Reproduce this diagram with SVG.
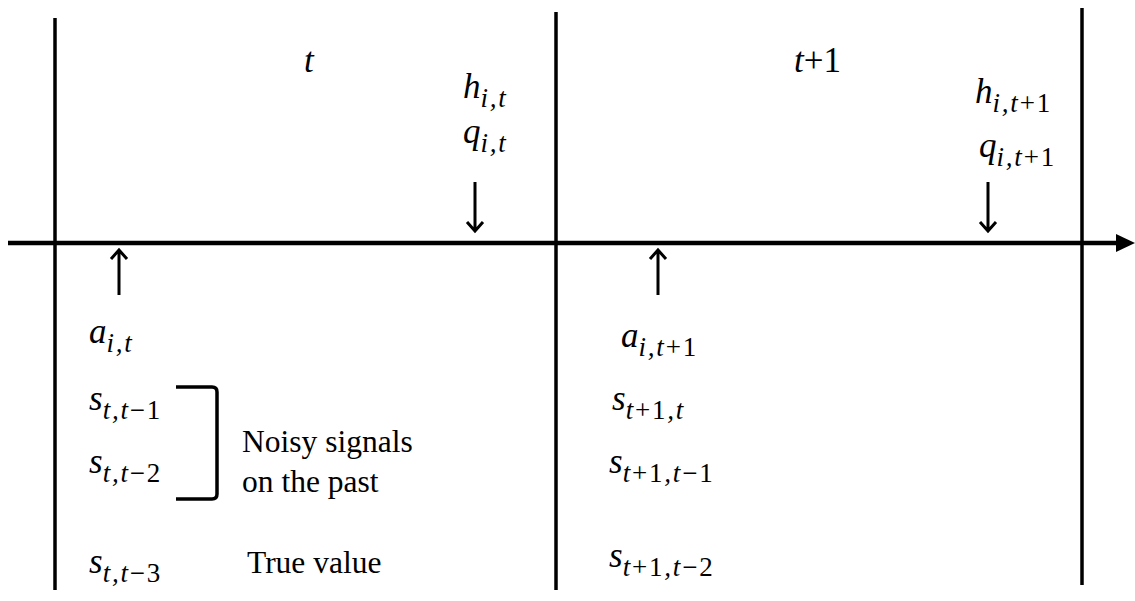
<svg xmlns="http://www.w3.org/2000/svg" width="1135" height="601" viewBox="0 0 1135 601">
<style>
.m{font-family:"Liberation Serif","DejaVu Serif",serif;font-style:italic;font-size:35px;fill:#000}
.s{font-size:27px;letter-spacing:1.8px}
.u{font-style:normal}
.r{font-family:"Liberation Serif","DejaVu Serif",serif;font-size:31.5px;fill:#000}
.ln{stroke:#000;fill:none;stroke-width:3.5}
.ar{stroke:#000;fill:none;stroke-width:3;stroke-linecap:butt}
</style>
<g id="connectors">
<line class="ln" x1="55" y1="18" x2="55" y2="590"/>
<line class="ln" x1="556" y1="12" x2="556" y2="590"/>
<line class="ln" x1="1082" y1="8" x2="1082" y2="585"/>
<line x1="8" y1="243" x2="1118" y2="243" stroke="#000" stroke-width="4.5"/>
<path d="M1116,234 L1135,243 L1116,252 z" fill="#000"/>
<path class="ar" d="M119,295 V251 M111,259 L119,250 L127,259"/>
<path class="ar" d="M658,295 V251 M650,259 L658,250 L666,259"/>
<path class="ar" d="M475,182 V230 M467,222 L475,231 L483,222"/>
<path class="ar" d="M988,182 V230 M980,222 L988,231 L996,222"/>
<path d="M176,387 H212 Q217,387 217,392 V494 Q217,499 212,499 H176" stroke="#000" fill="none" stroke-width="3.5"/>
</g>
<g id="period-t">
<text class="m" x="304" y="72">t</text>
</g>
<g id="period-t1">
<text class="m" x="794" y="72">t<tspan class="u">+1</tspan></text>
</g>
<g id="h-it">
<text class="m" x="463" y="98">h<tspan class="s" dy="9">i,t</tspan></text>
</g>
<g id="q-it">
<text class="m" x="463" y="143">q<tspan class="s" dy="9">i,t</tspan></text>
</g>
<g id="h-it1">
<text class="m" x="975" y="103">h<tspan class="s" dy="9">i,t<tspan class="u">+1</tspan></tspan></text>
</g>
<g id="q-it1">
<text class="m" x="979" y="157">q<tspan class="s" dy="9">i,t<tspan class="u">+1</tspan></tspan></text>
</g>
<g id="a-it">
<text class="m" x="89" y="343">a<tspan class="s" dy="9">i,t</tspan></text>
</g>
<g id="s-tt1">
<text class="m" x="89" y="410">s<tspan class="s" dy="9">t,t<tspan class="u">−1</tspan></tspan></text>
</g>
<g id="s-tt2">
<text class="m" x="89" y="473">s<tspan class="s" dy="9">t,t<tspan class="u">−2</tspan></tspan></text>
</g>
<g id="s-tt3">
<text class="m" x="89" y="573">s<tspan class="s" dy="9">t,t<tspan class="u">−3</tspan></tspan></text>
</g>
<g id="noisy-label">
<text class="r" x="242" y="452">Noisy signals</text>
<text class="r" x="242" y="492">on the past</text>
</g>
<g id="true-label">
<text class="r" x="247" y="573">True value</text>
</g>
<g id="a-it1">
<text class="m" x="621" y="347">a<tspan class="s" dy="9">i,t<tspan class="u">+1</tspan></tspan></text>
</g>
<g id="s-t1t">
<text class="m" x="612" y="410">s<tspan class="s" dy="9">t<tspan class="u">+1</tspan>,t</tspan></text>
</g>
<g id="s-t1t1">
<text class="m" x="609" y="473">s<tspan class="s" dy="9">t<tspan class="u">+1</tspan>,t<tspan class="u">−1</tspan></tspan></text>
</g>
<g id="s-t1t2">
<text class="m" x="609" y="567">s<tspan class="s" dy="9">t<tspan class="u">+1</tspan>,t<tspan class="u">−2</tspan></tspan></text>
</g>
</svg>
